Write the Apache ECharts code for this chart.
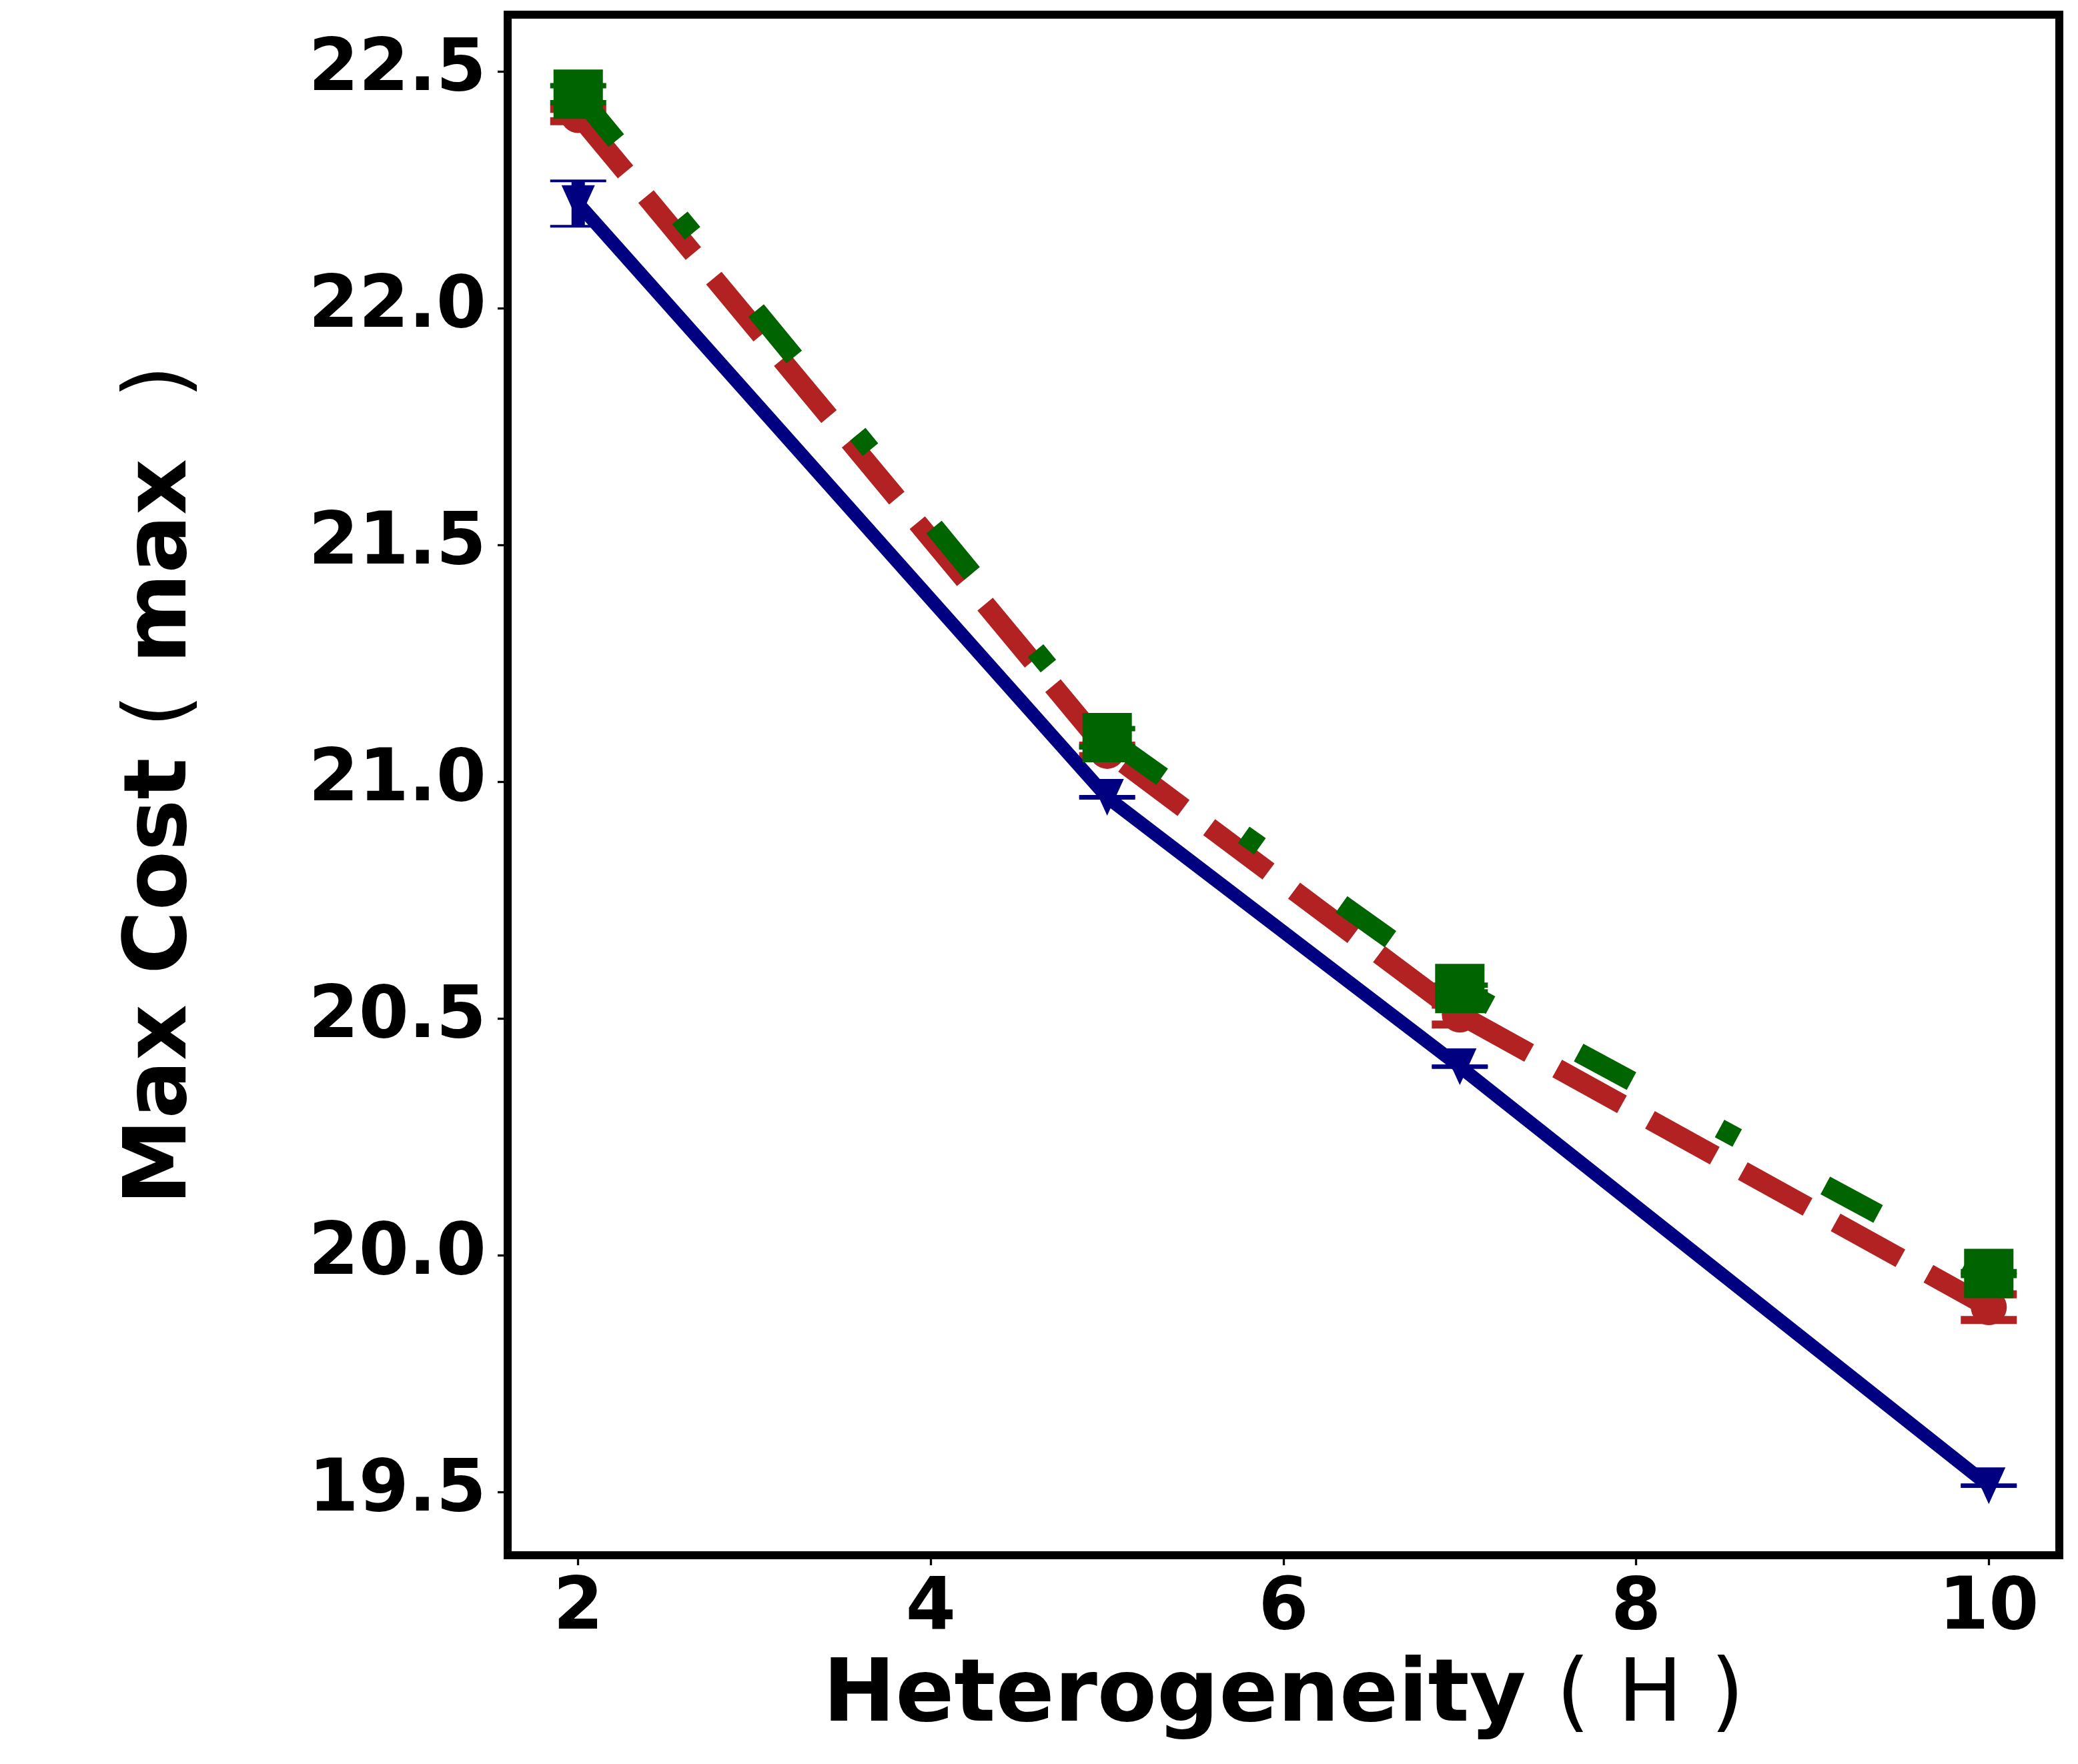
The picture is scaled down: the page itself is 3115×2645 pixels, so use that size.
<!DOCTYPE html>
<html>
<head>
<meta charset="utf-8">
<script src="https://cdn.jsdelivr.net/npm/echarts@6/dist/echarts.min.js"></script>
<style>
html,body{margin:0;padding:0;background:#fff;}
#main{width:3115px;height:2645px;}
</style>
</head>
<body>
<div id="main"></div>
<script>
// heterogeneity levels on the x axis
var hetero = [2, 5, 7, 10];
// mean max cost per method
var blueVals  = [22.221, 20.967, 20.398, 19.513];
var redVals   = [22.408, 21.065, 20.508, 19.890];
var greenVals = [22.452, 21.093, 20.563, 19.961];
// half width of the error bars
var blueErr  = [0.048, 0.002, 0.002, 0.002];
var redErr   = [0.013, 0.011, 0.021, 0.027];
var greenErr = [0.018, 0.019, 0.007, 0.004];
// tick labels
var xTicks = [2, 4, 6, 8, 10];
var yTicks = [19.5, 20.0, 20.5, 21.0, 21.5, 22.0, 22.5];

function pairs(vals){
	var out = [];
	for(var i=0;i<hetero.length;i++){ out.push([hetero[i], vals[i]]); }
	return out;
}
function bars(vals, errs){
	var out = [];
	for(var i=0;i<hetero.length;i++){ out.push([hetero[i], vals[i]-errs[i], vals[i]+errs[i]]); }
	return out;
}

// error bar drawn as stem + two caps
function errSeries(vals, errs, color, stemW, capW){
	return {
		type:'custom',
		z:1,
		silent:true,
		encode:{x:0, y:[1,2]},
		data:bars(vals, errs),
		renderItem:function(params, api){
			var x = api.value(0);
			var lo = api.coord([x, api.value(1)]);
			var hi = api.coord([x, api.value(2)]);
			var half = 42;
			return {
				type:'group',
				children:[
					{type:'line', shape:{x1:lo[0],y1:lo[1],x2:hi[0],y2:hi[1]}, style:{stroke:color, lineWidth:stemW}},
					{type:'line', shape:{x1:hi[0]-half,y1:hi[1],x2:hi[0]+half,y2:hi[1]}, style:{stroke:color, lineWidth:capW}},
					{type:'line', shape:{x1:lo[0]-half,y1:lo[1],x2:lo[0]+half,y2:lo[1]}, style:{stroke:color, lineWidth:capW}}
				]
			};
		}
	};
}

var bold = 'DejaVu Sans';
var myChart = echarts.init(document.getElementById('main'));

var option = {
	animation:false,
	backgroundColor:'#fff',
	grid:{
		left:761, right:28, top:22, bottom:313,
		show:true, borderColor:'#000', borderWidth:12,
		outerBoundsMode:'none'
	},
	xAxis:{
		type:'value',
		min:1.6, max:10.4,
		name:'{b|Heterogeneity }{r|( H )}',
		nameLocation:'middle',
		nameGap:149,
		nameTextStyle:{
			rich:{
				b:{fontFamily:bold, fontWeight:'bold', fontSize:130, color:'#000'},
				r:{fontFamily:bold, fontWeight:'normal', fontSize:130, color:'#000'}
			}
		},
		axisLine:{show:true, lineStyle:{color:'#000', width:12}},
		axisTick:{show:true, length:15, lineStyle:{color:'#000', width:3.3}, customValues:xTicks},
		axisLabel:{
			customValues:xTicks,
			margin:28,
			fontFamily:bold, fontWeight:'bold', fontSize:108, color:'#000',
			formatter:function(v){ return String(v); }
		},
		splitLine:{show:false}
	},
	yAxis:{
		type:'value',
		min:19.366, max:22.62,
		name:'{b|Max Cost }{r|(}{b| max  }{r|)}',
		nameLocation:'middle',
		nameGap:452,
		nameTextStyle:{
			rich:{
				b:{fontFamily:bold, fontWeight:'bold', fontSize:130, color:'#000'},
				r:{fontFamily:bold, fontWeight:'normal', fontSize:130, color:'#000'}
			}
		},
		axisLine:{show:true, lineStyle:{color:'#000', width:12}},
		axisTick:{show:true, length:15, lineStyle:{color:'#000', width:3.3}, customValues:yTicks},
		axisLabel:{
			customValues:yTicks,
			margin:32,
			fontFamily:bold, fontWeight:'bold', fontSize:108, color:'#000',
			formatter:function(v){ return v.toFixed(1); }
		},
		splitLine:{show:false}
	},
	series:[
		errSeries(blueVals, blueErr, '#000080', 20, 4),
		errSeries(redVals, redErr, '#b22222', 30, 12),
		errSeries(greenVals, greenErr, '#006400', 30, 8),
		{
			type:'line',
			z:3,
			data:pairs(blueVals),
			symbol:'triangle', symbolRotate:180, symbolSize:[50,55],
			itemStyle:{color:'#000080'},
			lineStyle:{color:'#000080', width:20, type:'solid'}
		},
		{
			type:'line',
			z:4,
			data:pairs(redVals),
			symbol:'circle', symbolSize:54,
			itemStyle:{color:'#b22222'},
			lineStyle:{color:'#b22222', width:30, type:[111,48]}
		},
		{
			type:'line',
			z:5,
			data:pairs(greenVals),
			symbol:'rect', symbolSize:74,
			itemStyle:{color:'#006400'},
			lineStyle:{color:'#006400', width:30, type:[90,150,30,150]}
		}
	]
};

myChart.setOption(option);
</script>
</body>
</html>
